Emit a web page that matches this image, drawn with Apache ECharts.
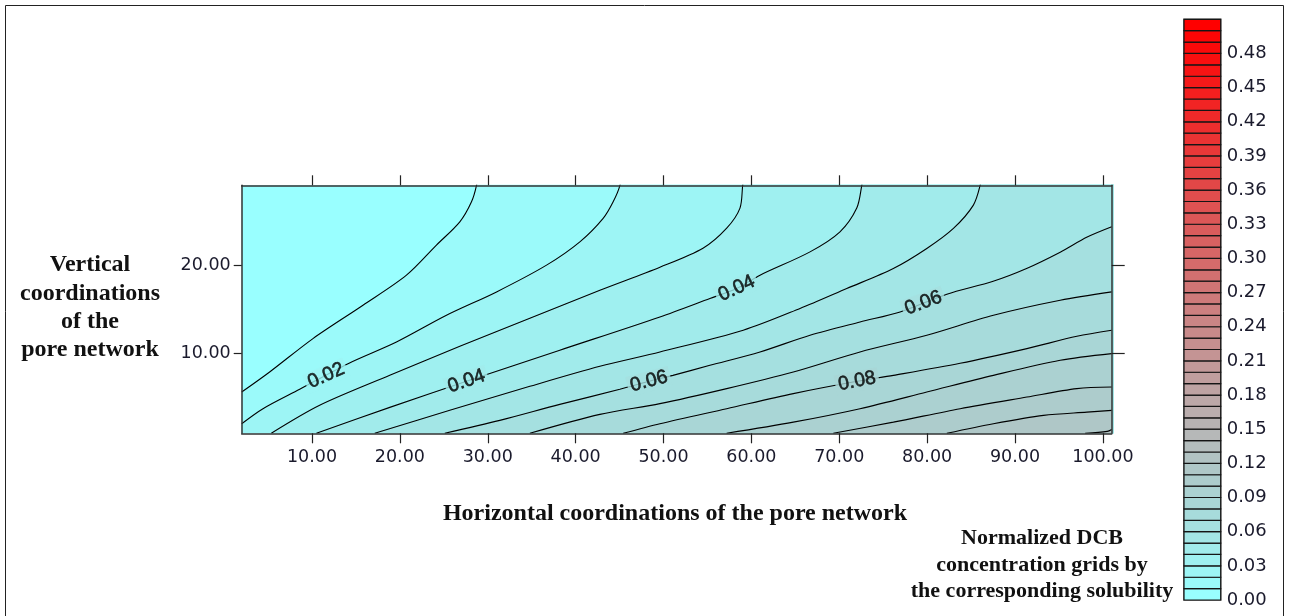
<!DOCTYPE html>
<html>
<head>
<meta charset="utf-8">
<script src="https://cdn.jsdelivr.net/npm/echarts@6/dist/echarts.min.js"></script>
<style>
  html, body { margin: 0; padding: 0; background: #ffffff; }
  #chart { width: 1290px; height: 616px; }
</style>
</head>
<body>
<div id="chart"></div>
<script>
// Axis ticks
const xTicks = [10, 20, 30, 40, 50, 60, 70, 80, 90, 100];
const yTicks = [10, 20];
const colorbarTicks = [0, 0.03, 0.06, 0.09, 0.12, 0.15, 0.18, 0.21, 0.24, 0.27, 0.30, 0.33, 0.36, 0.39, 0.42, 0.45, 0.48];

// Colour scale: one cell per 0.01 from 0.00 to 0.51
const colorbarStep = 0.01;
const colorbarCells = 51;

// Contour levels and their traced iso-lines [x, y] in pore-network coordinates
const contourLevels = [0.01, 0.02, 0.03, 0.04, 0.05, 0.06, 0.07, 0.08, 0.09, 0.10, 0.11, 0.12];
const c01 = [[2.0,5.59],[5.18,7.87],[10.11,11.67],[15.8,15.46],[20.75,18.88],[24.16,22.3],[26.82,24.95],[28.15,27.23],[28.72,29.1]];
const c02 = [[2.0,1.99],[4.42,3.7],[8.6,5.91],[14.1,8.82],[19.61,11.28],[25.3,14.32],[31.0,16.98],[36.69,20.02],[40.48,22.67],[43.13,25.34],[44.27,27.23],[45.04,29.1]];
const c03 = [[5.37,0.9],[10.87,4.08],[18.85,7.49],[26.82,10.79],[34.79,13.98],[42.76,17.17],[49.59,19.79],[54.49,21.95],[57.19,24.23],[58.7,26.51],[59.01,29.1]];
const c04 = [[10.5,0.9],[18.85,3.85],[27.58,6.81],[38.2,10.35],[49.59,14.13],[55.28,16.23],[58.32,17.37],[60.98,18.88],[66.67,21.53],[70.08,23.81],[71.99,26.51],[72.56,29.1]];
const c05 = [[17.14,0.9],[25.68,3.51],[34.79,6.24],[42.76,8.52],[49.59,10.15],[59.07,12.62],[65.53,15.09],[70.85,17.36],[76.15,19.64],[79.96,21.92],[82.99,24.2],[85.26,26.85],[86.03,29.1]];
const c06 = [[25.11,0.9],[31.37,2.37],[38.2,4.19],[45.03,5.9],[48.34,6.81],[51.07,7.49],[55.28,8.63],[60.98,10.15],[66.67,12.05],[72.36,13.56],[76.92,14.7],[82.24,16.72],[87.51,18.2],[91.38,19.68],[95.14,21.5],[98.21,23.21],[101,24.38]];
const c07 = [[34.79,0.9],[42.76,3.05],[49.59,4.27],[57.19,5.98],[64.77,7.87],[72.36,10.15],[79.96,12.05],[87.54,14.32],[95.14,16.03],[101,16.98]];
const c08 = [[45.41,0.9],[49.59,1.99],[57.19,3.7],[64.77,5.41],[72.02,6.81],[76.16,7.49],[83.75,8.86],[91.35,10.53],[97.04,11.93],[101,12.62]];
const c09 = [[57.18,0.9],[64.77,2.17],[72.36,3.7],[79.96,5.59],[87.54,7.49],[95.14,9.2],[101,9.96]];
const c10 = [[69.32,0.9],[76.16,2.17],[83.75,3.7],[91.35,5.02],[97.04,5.98],[101,6.16]];
const c11 = [[82.24,0.9],[87.54,1.99],[93.24,2.94],[98.18,3.31],[101,3.51]];
const c12 = [[97.98,0.9],[100.49,1.12],[101,1.34]];

// Contour labels
const contourLabelText = ['0.02', '0.04', '0.06', '0.08', '0.04', '0.06'];
const contourLabelX = [11.6, 27.58, 48.34, 72.02, 58.32, 79.57];
const contourLabelY = [7.45, 6.81, 6.81, 6.81, 17.37, 15.71];

// ---------------------------------------------------------------------------
const X_MIN = 2, X_MAX = 101, Y_MIN = 0.9, Y_MAX = 29.1;
const contourLines = [c01, c02, c03, c04, c05, c06, c07, c08, c09, c10, c11, c12];
const labelAngles = [24, 19, 15, 11, 25, 21];

// cyan -> grey -> red ramp over the colour cells
function cellColor(k) {
  const t = k / (colorbarCells - 1);
  const r = Math.round(153 + 102 * t);
  const g = Math.round(255 * (1 - t));
  return 'rgb(' + r + ',' + g + ',' + g + ')';
}

// a line that leaves through the top edge is continued above the plot so the
// region below/right of it can be filled down to the x axis
function bandPath(pts) {
  const last = pts[pts.length - 1];
  if (last[1] >= Y_MAX - 1e-6) {
    return pts.concat([[last[0] + 0.3, Y_MAX + 2], [X_MAX + 1, Y_MAX + 2]]);
  }
  return pts;
}

const axisLineStyle = { color: '#333333', width: 1.5 };
const tickLineStyle = { color: '#222222', width: 1.2 };
const tickFont = { fontFamily: 'DejaVu Sans', fontSize: 17.5, color: '#1a1a2c' };

const series = [];
contourLines.forEach(function (pts, i) {
  const k = Math.round(contourLevels[i] / colorbarStep);
  series.push({
    type: 'line',
    xAxisIndex: 0, yAxisIndex: 0,
    data: bandPath(pts),
    smooth: 0.3,
    symbol: 'none',
    silent: true,
    clip: true,
    lineStyle: { color: '#000000', width: 1.1 },
    areaStyle: { color: cellColor(k), opacity: 1, origin: 'start' },
    z: 2 + i * 0.01
  });
});

series.push({
  type: 'scatter',
  xAxisIndex: 0, yAxisIndex: 0,
  symbolSize: 0,
  silent: true,
  z: 4,
  data: contourLabelText.map(function (t, i) {
    const k = Math.round(parseFloat(t) / colorbarStep);
    return {
      value: [contourLabelX[i], contourLabelY[i]],
      label: {
        show: true,
        formatter: t,
        rotate: labelAngles[i],
        position: 'inside',
        align: 'center',
        verticalAlign: 'middle',
        fontFamily: 'Liberation Sans',
        fontSize: 19.5,
        color: '#000000',
        textBorderColor: '#000000',
        textBorderWidth: 0.6,
        backgroundColor: cellColor(k),
        padding: [0, 3]
      }
    };
  })
});

// colour bar cells
const cells = [];
for (let k = 0; k < colorbarCells; k++) {
  cells.push([k * colorbarStep, (k + 1) * colorbarStep, k]);
}
series.push({
  type: 'custom',
  xAxisIndex: 4, yAxisIndex: 4,
  silent: true,
  data: cells,
  renderItem: function (params, api) {
    const lo = api.value(0), hi = api.value(1), k = api.value(2);
    const p0 = api.coord([0, lo]);
    const p1 = api.coord([1, hi]);
    return {
      type: 'rect',
      shape: { x: p0[0], y: p1[1], width: p1[0] - p0[0], height: p0[1] - p1[1] },
      style: { fill: cellColor(k), stroke: '#151515', lineWidth: 1.2 }
    };
  }
});

const titleFont = 'bold 24px "Liberation Serif"';
const barTitleFont = 'bold 22px "Liberation Serif"';

const option = {
  animation: false,
  backgroundColor: '#ffffff',
  grid: [
    { left: 241.7, top: 185.3, width: 870, height: 248, show: true, backgroundColor: cellColor(0), borderWidth: 0 },
    { left: 1184, top: 19.3, width: 36.7, height: 580.7, show: true, borderColor: '#555555', borderWidth: 1.5 }
  ],
  xAxis: [
    {
      gridIndex: 0, type: 'value', min: X_MIN, max: X_MAX, position: 'bottom', z: 6,
      axisLine: { show: true, lineStyle: axisLineStyle },
      axisTick: { show: true, inside: false, length: 10, customValues: xTicks, lineStyle: tickLineStyle },
      axisLabel: Object.assign({ show: true, margin: 15, customValues: xTicks, formatter: function (v) { return v.toFixed(2); } }, tickFont),
      splitLine: { show: false }
    },
    {
      gridIndex: 0, type: 'value', min: X_MIN, max: X_MAX, position: 'top', z: 6,
      axisLine: { show: true, lineStyle: axisLineStyle },
      axisTick: { show: true, inside: false, length: 10, customValues: xTicks, lineStyle: tickLineStyle },
      axisLabel: { show: false },
      splitLine: { show: false }
    },
    { gridIndex: 1, type: 'value', min: 0, max: 1, show: false },
    { gridIndex: 1, type: 'value', min: 0, max: 1, show: false },
    { gridIndex: 1, type: 'value', min: 0, max: 1, show: false }
  ],
  yAxis: [
    {
      gridIndex: 0, type: 'value', min: Y_MIN, max: Y_MAX, position: 'left', z: 6,
      axisLine: { show: true, lineStyle: axisLineStyle },
      axisTick: { show: true, inside: false, length: 8, customValues: yTicks, lineStyle: tickLineStyle },
      axisLabel: Object.assign({ show: true, margin: 11, customValues: yTicks, formatter: function (v) { return v.toFixed(2); } }, tickFont),
      splitLine: { show: false }
    },
    {
      gridIndex: 0, type: 'value', min: Y_MIN, max: Y_MAX, position: 'right', z: 6,
      axisLine: { show: true, lineStyle: axisLineStyle },
      axisTick: { show: true, inside: false, length: 13, customValues: yTicks, lineStyle: tickLineStyle },
      axisLabel: { show: false },
      splitLine: { show: false }
    },
    { gridIndex: 1, type: 'value', min: 0, max: 0.51, show: false },
    { gridIndex: 1, type: 'value', min: 0, max: 0.51, show: false },
    {
      gridIndex: 1, type: 'value', min: 0, max: colorbarCells * colorbarStep, position: 'right',
      axisLine: { show: false },
      axisTick: { show: false },
      axisLabel: {
        show: true, margin: 6, customValues: colorbarTicks,
        formatter: function (v) { return v.toFixed(2); },
        fontFamily: 'DejaVu Sans', fontSize: 18, color: '#1a1a2c'
      },
      splitLine: { show: false }
    }
  ],
  series: series,
  graphic: [
    { type: 'rect', silent: true, z: 100, shape: { x: 5.5, y: 5.5, width: 1278, height: 640 }, style: { fill: null, stroke: '#222222', lineWidth: 1 } },
    { type: 'text', silent: true, x: 675, y: 514, style: { text: 'Horizontal coordinations of the pore network', font: titleFont, fill: '#111111', align: 'center', verticalAlign: 'middle' } },
    { type: 'text', silent: true, x: 90, y: 265, style: { text: 'Vertical', font: titleFont, fill: '#111111', align: 'center', verticalAlign: 'middle' } },
    { type: 'text', silent: true, x: 90, y: 294, style: { text: 'coordinations', font: titleFont, fill: '#111111', align: 'center', verticalAlign: 'middle' } },
    { type: 'text', silent: true, x: 90, y: 322, style: { text: 'of the', font: titleFont, fill: '#111111', align: 'center', verticalAlign: 'middle' } },
    { type: 'text', silent: true, x: 90, y: 350, style: { text: 'pore network', font: titleFont, fill: '#111111', align: 'center', verticalAlign: 'middle' } },
    { type: 'text', silent: true, x: 1042, y: 538, style: { text: 'Normalized DCB', font: barTitleFont, fill: '#111111', align: 'center', verticalAlign: 'middle' } },
    { type: 'text', silent: true, x: 1042, y: 565, style: { text: 'concentration grids by', font: barTitleFont, fill: '#111111', align: 'center', verticalAlign: 'middle' } },
    { type: 'text', silent: true, x: 1042, y: 591, style: { text: 'the corresponding solubility', font: barTitleFont, fill: '#111111', align: 'center', verticalAlign: 'middle' } }
  ]
};

const chart = echarts.init(document.getElementById('chart'), null, { renderer: 'canvas' });
chart.setOption(option);
</script>
</body>
</html>
